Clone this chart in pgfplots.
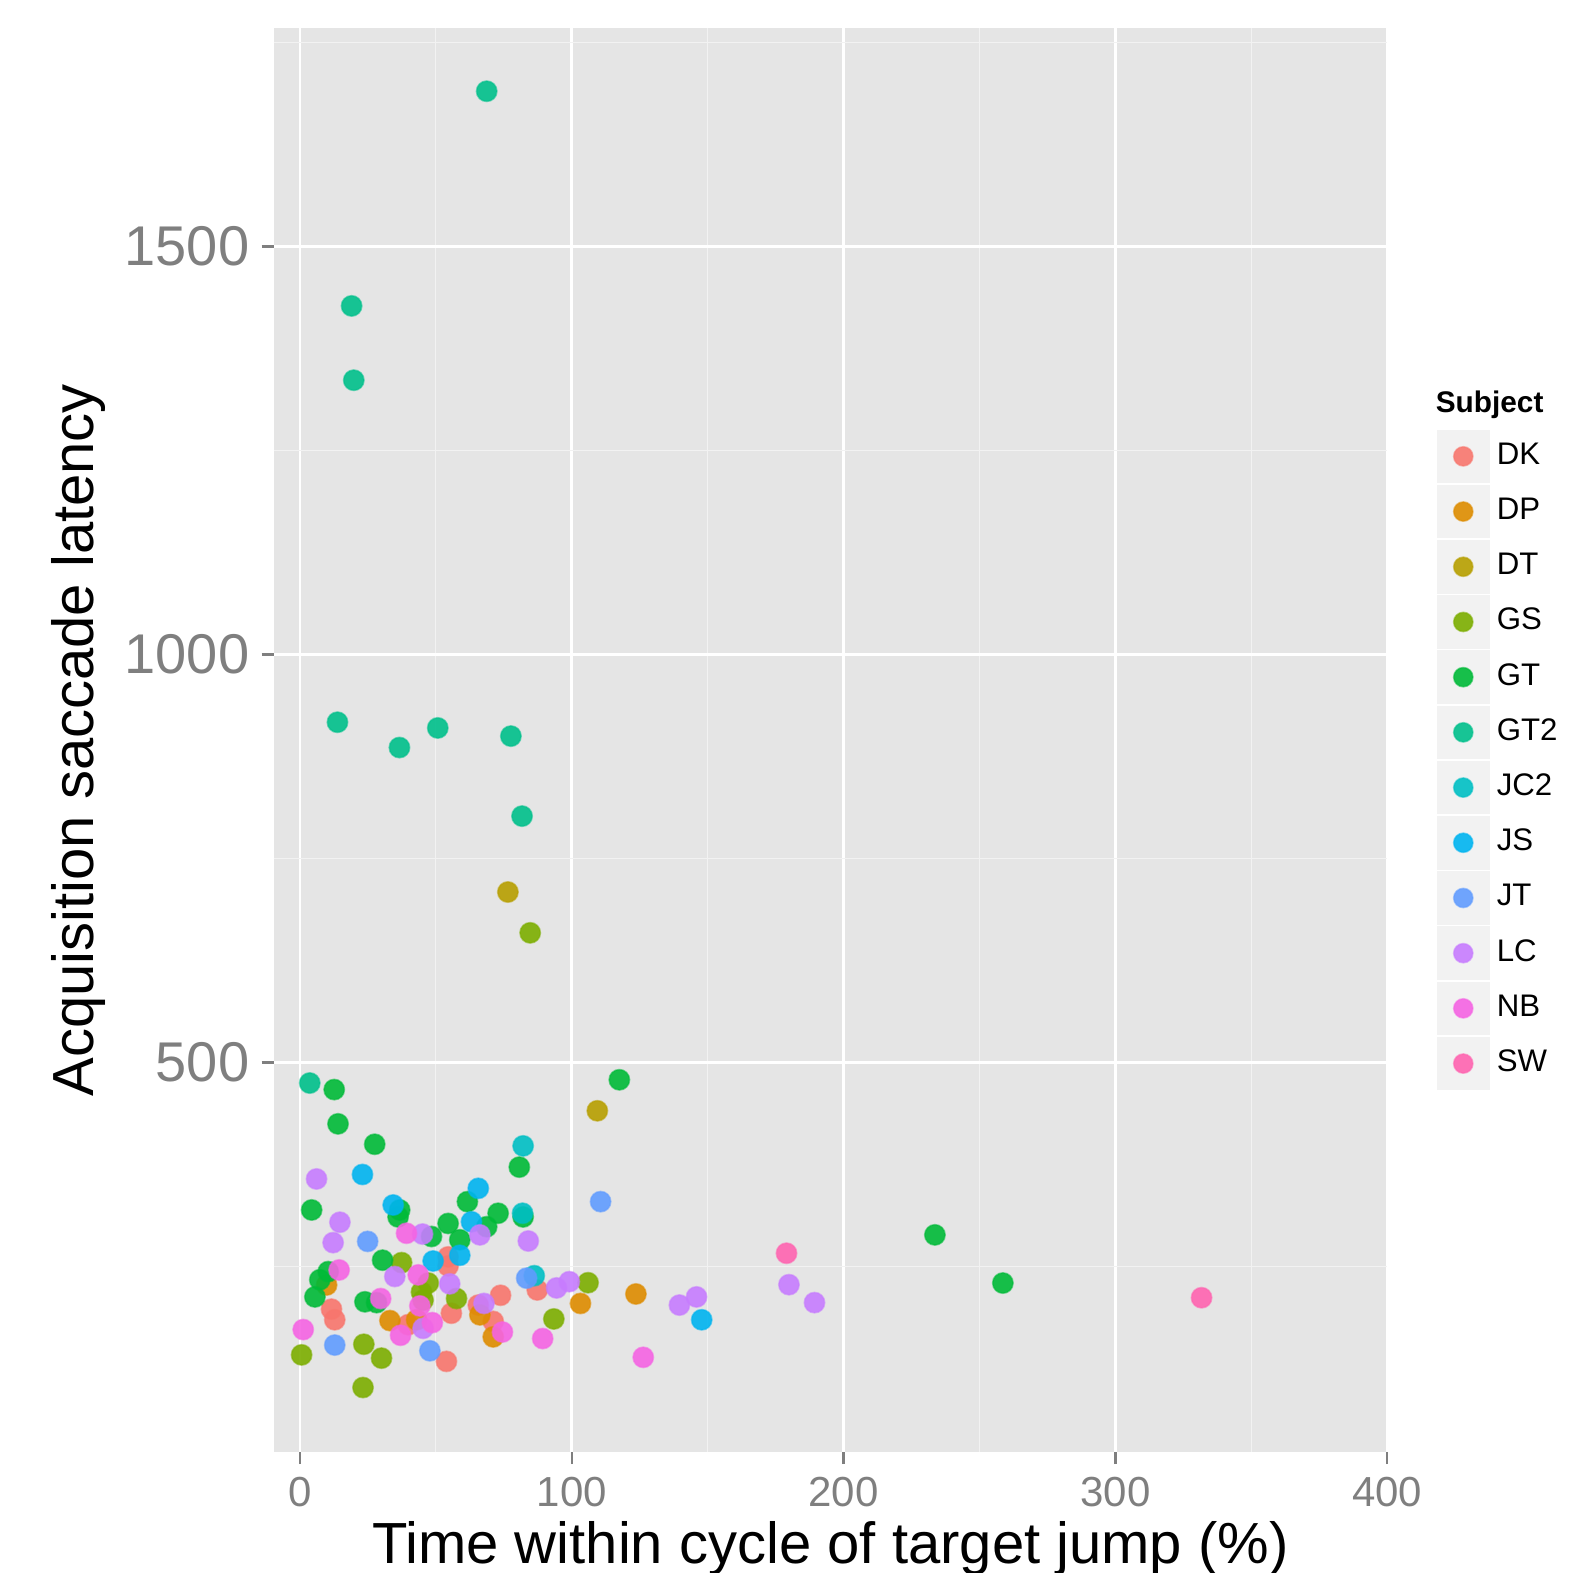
\documentclass[border=0pt]{standalone}
\usepackage{fontspec}
\setmainfont{Liberation Sans}
\usepackage{pgfplots}
\pgfplotsset{compat=1.18}
\definecolor{cDK}{HTML}{F8766D}
\definecolor{cDP}{HTML}{DE8C00}
\definecolor{cDT}{HTML}{B79F00}
\definecolor{cGS}{HTML}{7CAE00}
\definecolor{cGT}{HTML}{00BA38}
\definecolor{cGTt}{HTML}{00C08B}
\definecolor{cJC}{HTML}{00BFC4}
\definecolor{cJS}{HTML}{00B4F0}
\definecolor{cJT}{HTML}{619CFF}
\definecolor{cLC}{HTML}{C77CFF}
\definecolor{cNB}{HTML}{F564E3}
\definecolor{cSW}{HTML}{FF64B0}
\definecolor{panelbg}{HTML}{E5E5E5}
\definecolor{legbg}{HTML}{F2F2F2}
\definecolor{minorgrid}{HTML}{F2F2F2}
\definecolor{grey50}{HTML}{7F7F7F}
\begin{document}
\begin{tikzpicture}
\useasboundingbox (-68.4pt,-30pt) rectangle (329.1pt,363pt);
\begin{axis}[
  scale only axis, width=278.4pt, height=355.9pt,
  at={(0,0)}, anchor=south west,
  xmin=-9.7, xmax=400, ymin=23, ymax=1767,
  clip=false,
  axis background/.style={fill=panelbg},
  axis line style={draw=none},
  xtick={0,100,200,300,400}, ytick={500,1000,1500},
  minor xtick={50,150,250,350}, minor ytick={250,750,1250,1750},
  grid=both,
  major grid style={white, line width=0.65pt},
  minor grid style={minorgrid, line width=0.3pt},
  tick align=outside, tick pos=left,
  major tick length=3pt, minor tick length=0pt,
  tick style={grey50, line width=0.6pt},
  /pgf/number format/assume math mode=true,
  /pgf/number format/1000 sep={},
  xticklabel style={font=\fontsize{10.5}{12}\selectfont, text=grey50, inner sep=0pt, anchor=north},
  yticklabel style={font=\fontsize{14}{16}\selectfont, text=grey50, inner sep=0pt, anchor=east},
  xticklabel shift=3.2pt, yticklabel shift=2.9pt,
  xlabel={Time within cycle of target jump (\%)},
  ylabel={Acquisition saccade latency},
  label style={font=\fontsize{14.5}{17}\selectfont},
  xlabel style={at={(axis description cs:0.5,-0.0781)}, anchor=base},
  ylabel style={at={(axis description cs:-0.162,0.5)}, anchor=base, rotate=0},
  legend style={at={(1.0447,0.7182)}, anchor=north west, draw=none, fill=none,
    inner sep=0pt, outer sep=0pt, row sep=0.4pt, column sep=0pt,
    font=\fontsize{7.8}{9}\selectfont, nodes={inner sep=0pt, outer sep=0pt},
    /tikz/every odd column/.append style={column sep=1.8pt}},
  legend cell align=left,
  legend image code/.code={\fill[legbg] (-6.375pt,-6.5pt) rectangle (6.375pt,6.5pt);
     \draw[#1, only marks, mark size=2.4pt] plot coordinates {(0pt,0pt)};},
  pt/.style={only marks, mark=*, mark size=2.55pt, color=#1, mark options={fill=#1, fill opacity=0.9, draw opacity=0.55, line width=0.4pt}},
]
\addplot[pt=cDK] coordinates {(11.6,198) (12.8,185) (39.8,179) (53.9,134) (54.5,251) (54.5,262) (55.7,193) (65.6,203) (71.1,183) (73.8,215) (87.3,221.5)};
\addlegendentry{DK}
\addplot[pt=cDP] coordinates {(9.8,227.6) (33.1,184) (42.9,185) (66.2,191) (71.1,164) (103.2,205) (123.6,216.6)};
\addlegendentry{DP}
\addplot[pt=cDT] coordinates {(76.5,709) (109.4,441)};
\addlegendentry{DT}
\addplot[pt=cGS] coordinates {(84.7,659) (37.4,255) (47.2,230) (44.7,219) (45.3,209) (57.6,211) (0.6,142) (23.5,155) (30.0,138) (23.2,102) (106.0,230.4) (93.4,186)};
\addlegendentry{GS}
\addplot[pt=cGT] coordinates {(12.6,467) (14.0,425) (27.5,400) (4.3,319.5) (36.7,319.5) (36.1,311) (61.6,329.7) (72.9,315.5) (54.5,303) (68.7,299) (117.5,479) (80.7,372) (82.1,311) (48.4,287) (58.8,283) (30.4,258) (7.3,234) (10.4,244) (5.5,213) (23.9,207) (28.2,206) (233.6,289) (258.6,230)};
\addlegendentry{GT}
\addplot[pt=cGTt] coordinates {(68.7,1690) (19.0,1427) (19.8,1336) (13.8,917) (36.6,886) (50.7,910) (77.6,900) (81.7,802) (3.6,475)};
\addlegendentry{GT2}
\addplot[pt=cJC] coordinates {(82.1,398) (81.9,315.5) (86.2,239)};
\addlegendentry{JC2}
\addplot[pt=cJS] coordinates {(23.0,363) (34.3,325.6) (65.6,346) (63.1,305) (49.0,257) (58.8,264) (147.8,185)};
\addlegendentry{JS}
\addplot[pt=cJT] coordinates {(110.6,329.7) (24.9,281) (12.8,154) (47.8,147) (83.4,236)};
\addlegendentry{JT}
\addplot[pt=cLC] coordinates {(6.1,357.5) (14.7,304.5) (12.2,279.5) (45.1,290) (66.2,289) (34.9,238) (55.1,229) (45.3,174.5) (67.7,205) (84.0,281.5) (94.4,224) (99.1,231.7) (139.6,203) (145.9,213) (179.9,228) (189.3,206)};
\addlegendentry{LC}
\addplot[pt=cNB] coordinates {(39.2,291) (14.4,246) (43.5,240) (29.7,211) (44.1,202) (48.7,181.5) (37.0,166) (74.5,170) (1.2,173) (89.3,162) (126.3,139)};
\addlegendentry{NB}
\addplot[pt=cSW] coordinates {(179.0,266.5) (331.7,212)};
\addlegendentry{SW}
\node[anchor=base west, font=\bfseries\fontsize{7.45}{9}\selectfont, inner sep=0pt] at (rel axis cs:1.0429,0.7301) {Subject};
\end{axis}
\end{tikzpicture}
\end{document}
